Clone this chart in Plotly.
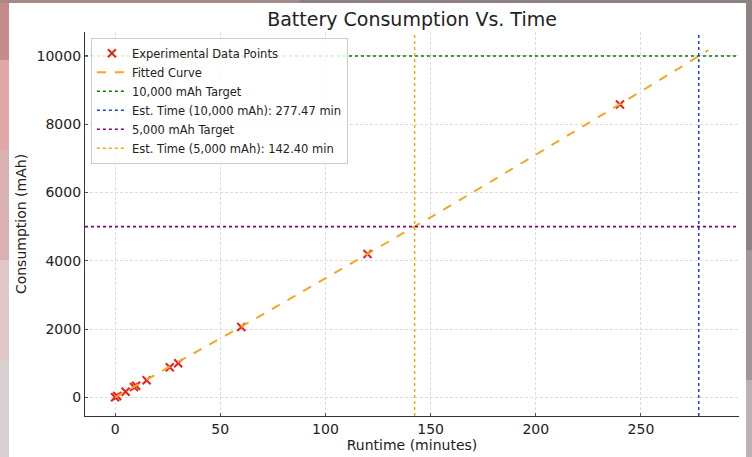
import plotly.graph_objects as go

# ---- data ----
runtime_min = [0, 1, 5, 9, 10, 15, 26, 30, 60, 120, 240]
consumption_mah = [0, 40, 165, 300, 340, 500, 880, 1000, 2060, 4200, 8580]

fit_x = [0, 30, 60, 90, 120, 150, 180, 210, 240, 270, 282]
fit_y = [0, 1030, 2070, 3130, 4195, 5275, 6370, 7475, 8590, 9715, 10170]

target_high = 10000
target_low = 5000
est_time_high = 277.47
est_time_low = 142.40

x_range = [-14.3, 296.6]
y_range = [-548, 10703]

x_ticks = [0, 50, 100, 150, 200, 250]
y_ticks = [0, 2000, 4000, 6000, 8000, 10000]

FONT = "DejaVu Sans"

fig = go.Figure()
fig.add_trace(go.Scatter(
    x=runtime_min, y=consumption_mah, mode="markers",
    name="Experimental Data Points",
    marker=dict(symbol="x-thin", size=8, color="#e8201c", line=dict(width=2, color="#e8201c")),
))
fig.add_trace(go.Scatter(
    x=fit_x, y=fit_y, mode="lines", name="Fitted Curve",
    line=dict(color="#f5a623", width=2, dash="dash"),
))
fig.add_trace(go.Scatter(
    x=x_range, y=[target_high, target_high], mode="lines",
    name="10,000 mAh Target",
    line=dict(color="#008000", width=1.6, dash="dot"),
))
fig.add_trace(go.Scatter(
    x=[est_time_high, est_time_high], y=y_range, mode="lines",
    name=f"Est. Time (10,000 mAh): {est_time_high:.2f} min",
    line=dict(color="#1f3fd8", width=1.5, dash="dot"),
))
fig.add_trace(go.Scatter(
    x=x_range, y=[target_low, target_low], mode="lines",
    name="5,000 mAh Target",
    line=dict(color="#800080", width=1.6, dash="dot"),
))
fig.add_trace(go.Scatter(
    x=[est_time_low, est_time_low], y=y_range, mode="lines",
    name=f"Est. Time (5,000 mAh): {est_time_low:.2f} min",
    line=dict(color="#ffa500", width=1.4, dash="dot"),
))

# surrounding photo-like border strips (paper coords relative to plot area)
L, R, T, B = 85, 13, 32, 41
W, H = 752, 457
pw, ph = W - L - R, H - T - B

def px(x):
    return (x - L) / pw

def py(y):
    return (H - B - y) / ph

shapes = []
left_cols = [("#c98a8a", 0, 60), ("#e3a7a7", 60, 150), ("#d9b1b1", 150, 260),
             ("#e0c8c8", 260, 360), ("#d6d0d0", 360, 457)]
for c, y0, y1 in left_cols:
    shapes.append(dict(type="rect", xref="paper", yref="paper", x0=px(0), x1=px(9),
                       y0=py(y1), y1=py(y0), fillcolor=c, line=dict(width=0), layer="below"))
shapes.append(dict(type="rect", xref="paper", yref="paper", x0=px(0), x1=px(300),
                   y0=py(3), y1=py(0), fillcolor="#a58a8a", line=dict(width=0), layer="below"))
shapes.append(dict(type="rect", xref="paper", yref="paper", x0=px(300), x1=px(752),
                   y0=py(3), y1=py(0), fillcolor="#8c8080", line=dict(width=0), layer="below"))
right_cols = [("#8c8282", 0, 250), ("#a09898", 250, 380), ("#b8b2b2", 380, 457)]
for c, y0, y1 in right_cols:
    shapes.append(dict(type="rect", xref="paper", yref="paper", x0=px(746), x1=px(752),
                       y0=py(y1), y1=py(y0), fillcolor=c, line=dict(width=0), layer="below"))

axis_common = dict(
    showline=True, linecolor="#333333", linewidth=1.2, mirror=False,
    showgrid=True, gridcolor="#dcdcdc", griddash="3px,2px", gridwidth=1,
    zeroline=False, ticks="inside", ticklen=3, tickcolor="#555555",
    tickfont=dict(family=FONT, size=14, color="#222222"),
    automargin=False, tickformat="d",
)

fig.update_layout(
    width=W, height=H,
    margin=dict(l=L, r=R, t=T, b=B),
    paper_bgcolor="white", plot_bgcolor="white",
    title=dict(text="Battery Consumption Vs. Time", x=(L + pw / 2) / W, xanchor="center",
               y=1 - 19 / H, yanchor="middle", automargin=False,
               font=dict(family=FONT, size=19, color="#222222")),
    xaxis=dict(range=x_range, tickvals=x_ticks,
               title=dict(text="Runtime (minutes)", standoff=4,
                          font=dict(family=FONT, size=14, color="#222222")),
               **axis_common),
    yaxis=dict(range=y_range, tickvals=y_ticks,
               title=dict(text="Consumption (mAh)", standoff=6,
                          font=dict(family=FONT, size=14, color="#222222")),
               **axis_common),
    legend=dict(x=0.009, y=0.985, xanchor="left", yanchor="top",
                bgcolor="rgba(255,255,255,0.85)", bordercolor="#cccccc", borderwidth=1,
                font=dict(family=FONT, size=11.5, color="#222222"),
                tracegroupgap=0, itemwidth=30),
    shapes=shapes,
    showlegend=True,
)

fig.write_html(
    "out.html",
    config={"displayModeBar": False},
    post_script="document.body.style.margin='0';document.body.style.padding='0';"
                "document.body.style.overflow='hidden';",
)
